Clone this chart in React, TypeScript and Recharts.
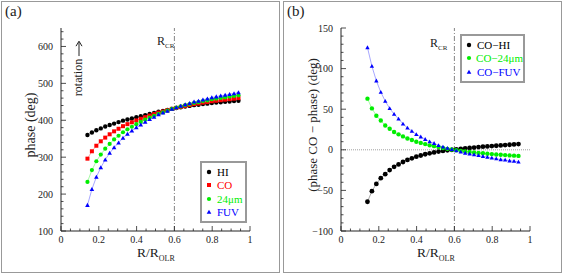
import React from 'react';
import { LineChart, Line, XAxis, YAxis, ReferenceLine } from 'recharts';

// galactocentric radius in units of R_OLR
const radius = [
  0.14, 0.1635, 0.187, 0.2105, 0.234, 0.2575, 0.281, 0.3045, 0.328, 0.3515,
  0.375, 0.3985, 0.422, 0.4455, 0.469, 0.4925, 0.516, 0.5395, 0.563, 0.5865,
  0.61, 0.6335, 0.657, 0.6805, 0.704, 0.7275, 0.751, 0.7745, 0.798, 0.8215,
  0.845, 0.8685, 0.892, 0.9155, 0.939,
];

// (a) spiral phase (deg)
const phaseHI = [
  360, 367, 373, 378, 383, 387, 391, 395, 399, 402, 405, 408, 411, 414, 417, 420, 423, 425,
  428, 431, 433, 435, 437, 439, 441, 442, 444, 445, 447, 448, 449, 450, 451, 452, 453,
];
const phaseCO = [
  296, 316, 331, 343, 353, 362, 370, 377, 384, 389.5, 394.5, 399.5, 404, 408.5, 412.7, 416.8,
  420.8, 423.6, 427.3, 431, 433.6, 436.2, 438.8, 441.3, 443.8, 445.3, 447.8, 449.2, 451.6, 453,
  454.4, 455.8, 457.2, 458.6, 460,
];
const phase24 = [
  233, 265, 289, 307, 323, 336, 348, 358, 367.5, 375.5, 382.5, 389.5, 395.5, 401.5, 407.2,
  412.3, 417.5, 421.4, 426.1, 430.7, 434.1, 437.5, 440.8, 444, 447.1, 449.1, 452.1, 454, 456.9,
  458.7, 460.5, 462.3, 464.1, 465.8, 467.5,
];
const phaseFUV = [
  170, 213, 246, 272, 293, 311, 326, 339, 352, 362.5, 371.5, 380.5, 388, 395.5, 402.7, 408.8,
  415.3, 420.1, 425.3, 430.5, 434.6, 438.7, 442.8, 446.3, 449.8, 452.3, 455.8, 458.2, 461.6,
  464, 466.4, 468.3, 470.7, 472.6, 475,
];

// (b) phase offsets (deg)
const diffHI = [
  -64, -51, -42, -35, -30, -25, -21, -18, -15, -12.5, -10.5, -8.5, -7, -5.5, -4.3, -3.2, -2.2,
  -1.4, -0.7, 0, 0.6, 1.2, 1.8, 2.3, 2.8, 3.3, 3.8, 4.2, 4.6, 5, 5.4, 5.8, 6.2, 6.6, 7,
];
const diff24 = [
  63, 51, 42, 36, 30, 26, 22, 19, 16.5, 14, 12, 10, 8.5, 7, 5.5, 4.5, 3.3, 2.2, 1.2, 0.3,
  -0.5, -1.3, -2, -2.7, -3.3, -3.8, -4.3, -4.8, -5.3, -5.7, -6.1, -6.5, -6.9, -7.2, -7.5,
];
const diffFUV = [
  126, 103, 85, 71, 60, 51, 44, 38, 32, 27, 23, 19, 16, 13, 10, 8, 5.5, 3.5, 2, 0.5, -1, -2.5,
  -4, -5, -6, -7, -8, -9, -10, -11, -12, -12.5, -13.5, -14, -15,
];

const xMajor = [0, 0.2, 0.4, 0.6, 0.8, 1];
const xTicks = [0, 0.05, 0.1, 0.15, 0.2, 0.25, 0.3, 0.35, 0.4, 0.45, 0.5, 0.55, 0.6, 0.65, 0.7, 0.75, 0.8, 0.85, 0.9, 0.95, 1];
const phaseMajor = [100, 200, 300, 400, 500, 600];
const phaseTicks = [100, 120, 140, 160, 180, 200, 220, 240, 260, 280, 300, 320, 340, 360, 380, 400, 420, 440, 460, 480, 500, 520, 540, 560, 580, 600, 620, 640];
const diffMajor = [-100, -50, 0, 50, 100, 150];
const diffTicks = [-100, -90, -80, -70, -60, -50, -40, -30, -20, -10, 0, 10, 20, 30, 40, 50, 60, 70, 80, 90, 100, 110, 120, 130, 140, 150];

const R_CR = 0.6;

const RED = '#ff0000';
const GREEN = '#00ee00';
const BLUE = '#0000ff';
const BLACK = '#000000';

const FONT = '"Liberation Serif", "DejaVu Serif", serif';

const phaseRows = radius.map((x, i) => ({ x, hi: phaseHI[i], co: phaseCO[i], ir: phase24[i], fuv: phaseFUV[i] }));
const diffRows = radius.map((x, i) => ({ x, hi: diffHI[i], ir: diff24[i], fuv: diffFUV[i] }));

type Shape = 'circle' | 'square' | 'triangle';

const Marker = ({ cx, cy, shape, color, size }: any) => {
  if (cx == null || cy == null) return null;
  if (shape === 'square') {
    return <rect x={cx - size} y={cy - size} width={size * 2} height={size * 2} fill={color} />;
  }
  if (shape === 'triangle') {
    const h = size * 1.15;
    return <polygon points={`${cx},${cy - h} ${cx + h},${cy + h * 0.75} ${cx - h},${cy + h * 0.75}`} fill={color} />;
  }
  return <circle cx={cx} cy={cy} r={size} fill={color} />;
};

const fmt = (v: number) => (v < 0 ? `\u2212${Math.abs(v)}` : `${v}`);

const AxisTick = ({ x, y, payload, side, majors }: any) => {
  const v = payload.value;
  const major = majors.some((m: number) => Math.abs(m - v) < 1e-6);
  const len = major ? 5 : 2.5;
  let line;
  let label = null;
  if (side === 'bottom') {
    line = <line x1={x} y1={y} x2={x} y2={y - len} stroke="#222" strokeWidth={0.8} />;
    if (major) label = <text x={x} y={y + 12} textAnchor="middle" fontSize={10} fontFamily={FONT} fill="#222">{fmt(v)}</text>;
  } else if (side === 'top') {
    line = <line x1={x} y1={y} x2={x} y2={y + len} stroke="#222" strokeWidth={0.8} />;
  } else if (side === 'left') {
    line = <line x1={x} y1={y} x2={x + len} y2={y} stroke="#222" strokeWidth={0.8} />;
    if (major) label = <text x={x - 8} y={y + 3.5} textAnchor="end" fontSize={10} fontFamily={FONT} fill="#222">{fmt(v)}</text>;
  } else {
    line = <line x1={x} y1={y} x2={x - len} y2={y} stroke="#222" strokeWidth={0.8} />;
  }
  return <g>{line}{label}</g>;
};

const seriesLine = (key: string, color: string, shape: Shape, size: number) => (
  <Line
    key={key}
    dataKey={key}
    type="linear"
    stroke={color}
    strokeOpacity={0.5}
    strokeWidth={0.7}
    isAnimationActive={false}
    dot={(p: any) => <Marker key={`${key}-${p.index}`} cx={p.cx} cy={p.cy} shape={shape} color={color} size={size} />}
    activeDot={false}
  />
);

const Frame = ({ left }: { left: number }) => (
  <div style={{ position: 'absolute', left, top: 1, width: 277, height: 270, border: '1px solid #999' }} />
);

const LegendBox = ({ left, top, width, items }: any) => (
  <div style={{ position: 'absolute', left, top, width, border: '2px solid #999', background: '#fff', padding: '2px 0 2px 0', fontFamily: FONT, fontSize: 11 }}>
    {items.map((it: any) => (
      <div key={it.label} style={{ display: 'flex', alignItems: 'center', height: 13.5, color: it.color }}>
        <svg width={14} height={10} style={{ marginLeft: 1 }}>
          <Marker cx={6} cy={5} shape={it.shape} color={it.color} size={it.size} />
        </svg>
        <span>{it.label}</span>
      </div>
    ))}
  </div>
);

const Text = ({ left, top, children, size = 13, rotate = false, style = {} }: any) => (
  <div
    style={{
      position: 'absolute', left, top, fontFamily: FONT, fontSize: size, whiteSpace: 'nowrap', lineHeight: 1, color: '#222',
      transform: rotate ? 'translate(-50%, -50%) rotate(-90deg)' : undefined, ...style,
    }}
  >
    {children}
  </div>
);

const Arrow = () => (
  <svg width={16} height={8} style={{ marginLeft: 3, verticalAlign: 'middle' }}>
    <line x1={0} y1={4} x2={14} y2={4} stroke="#222" strokeWidth={1} />
    <polyline points="10,1 15,4 10,7" fill="none" stroke="#222" strokeWidth={1} />
  </svg>
);

const axes = (yDomain: number[], yTicks: number[], yMajor: number[], leftWidth: number) => [
  <XAxis key="xb" xAxisId="b" dataKey="x" type="number" domain={[0, 1]} ticks={xTicks} interval={0}
    height={43} tickSize={0} tickMargin={0} stroke="#222" tick={(p: any) => <AxisTick {...p} side="bottom" majors={xMajor} />} />,
  <XAxis key="xt" xAxisId="t" dataKey="x" type="number" orientation="top" domain={[0, 1]} ticks={xTicks} interval={0}
    height={0} tickSize={0} tickMargin={0} stroke="#222" tick={(p: any) => <AxisTick {...p} side="top" majors={xMajor} />} />,
  <YAxis key="yl" yAxisId="l" type="number" domain={yDomain} ticks={yTicks} interval={0} width={leftWidth}
    tickSize={0} tickMargin={0} stroke="#222" tick={(p: any) => <AxisTick {...p} side="left" majors={yMajor} />} />,
  <YAxis key="yr" yAxisId="r" type="number" orientation="right" domain={yDomain} ticks={yTicks} interval={0} width={0}
    tickSize={0} tickMargin={0} stroke="#222" tick={(p: any) => <AxisTick {...p} side="right" majors={yMajor} />} />,
];

const withIds = (el: any) => React.cloneElement(el, { xAxisId: 'b', yAxisId: 'l' });

function PanelA() {
  return (
    <div style={{ position: 'absolute', left: 0, top: 0, width: 282, height: 274 }}>
      <Frame left={1} />
      <LineChart width={282} height={274} data={phaseRows} margin={{ top: 28, right: 32, bottom: 0, left: 0 }}>
        {axes([100, 650], phaseTicks, phaseMajor, 61)}
        <ReferenceLine xAxisId="b" yAxisId="l" x={R_CR} stroke="#666" strokeWidth={0.8} strokeDasharray="5 2 1 2" />
        {withIds(seriesLine('hi', BLACK, 'circle', 2.2))}
        {withIds(seriesLine('co', RED, 'square', 2))}
        {withIds(seriesLine('ir', GREEN, 'circle', 2.1))}
        {withIds(seriesLine('fuv', BLUE, 'triangle', 2))}
      </LineChart>
      <Text left={5} top={4} size={15}>(a)</Text>
      <Text left={31} top={125} rotate size={14}>phase (deg)</Text>
      <Text left={78} top={68} rotate size={12}>rotation<Arrow /></Text>
      <Text left={157} top={35} size={12}>R<sub style={{ fontSize: 7 }}>CR</sub></Text>
      <Text left={137} top={246} size={13.5}>R/R<sub style={{ fontSize: 8 }}>OLR</sub></Text>
      <LegendBox left={200} top={161} width={43} items={[
        { label: 'HI', color: BLACK, shape: 'circle', size: 2.2 },
        { label: 'CO', color: RED, shape: 'square', size: 2 },
        { label: '24\u03bcm', color: GREEN, shape: 'circle', size: 2.1 },
        { label: 'FUV', color: BLUE, shape: 'triangle', size: 2 },
      ]} />
    </div>
  );
}

function PanelB() {
  return (
    <div style={{ position: 'absolute', left: 282, top: 0, width: 282, height: 274 }}>
      <Frame left={1} />
      <LineChart width={282} height={274} data={diffRows} margin={{ top: 28, right: 34, bottom: 0, left: 0 }}>
        {axes([-100, 150], diffTicks, diffMajor, 59)}
        <ReferenceLine xAxisId="b" yAxisId="l" y={0} stroke="#888" strokeWidth={0.8} strokeDasharray="1 1" />
        <ReferenceLine xAxisId="b" yAxisId="l" x={R_CR} stroke="#666" strokeWidth={0.8} strokeDasharray="5 2 1 2" />
        {withIds(seriesLine('hi', BLACK, 'circle', 2.4))}
        {withIds(seriesLine('ir', GREEN, 'circle', 2.2))}
        {withIds(seriesLine('fuv', BLUE, 'triangle', 1.9))}
      </LineChart>
      <Text left={5} top={4} size={15}>(b)</Text>
      <Text left={30} top={125} rotate size={13}>(phase CO &minus; phase) (deg)</Text>
      <Text left={148} top={37} size={12}>R<sub style={{ fontSize: 7 }}>CR</sub></Text>
      <Text left={135} top={246} size={13.5}>R/R<sub style={{ fontSize: 8 }}>OLR</sub></Text>
      <LegendBox left={178} top={34} width={61} items={[
        { label: 'CO\u2212HI', color: BLACK, shape: 'circle', size: 2.2 },
        { label: 'CO\u221224\u03bcm', color: GREEN, shape: 'circle', size: 2.1 },
        { label: 'CO\u2212FUV', color: BLUE, shape: 'triangle', size: 2 },
      ]} />
    </div>
  );
}

export default function App() {
  return (
    <div style={{ position: 'absolute', left: 0, top: 0, width: 564, height: 274, background: '#fff' }}>
      <PanelA />
      <PanelB />
    </div>
  );
}
